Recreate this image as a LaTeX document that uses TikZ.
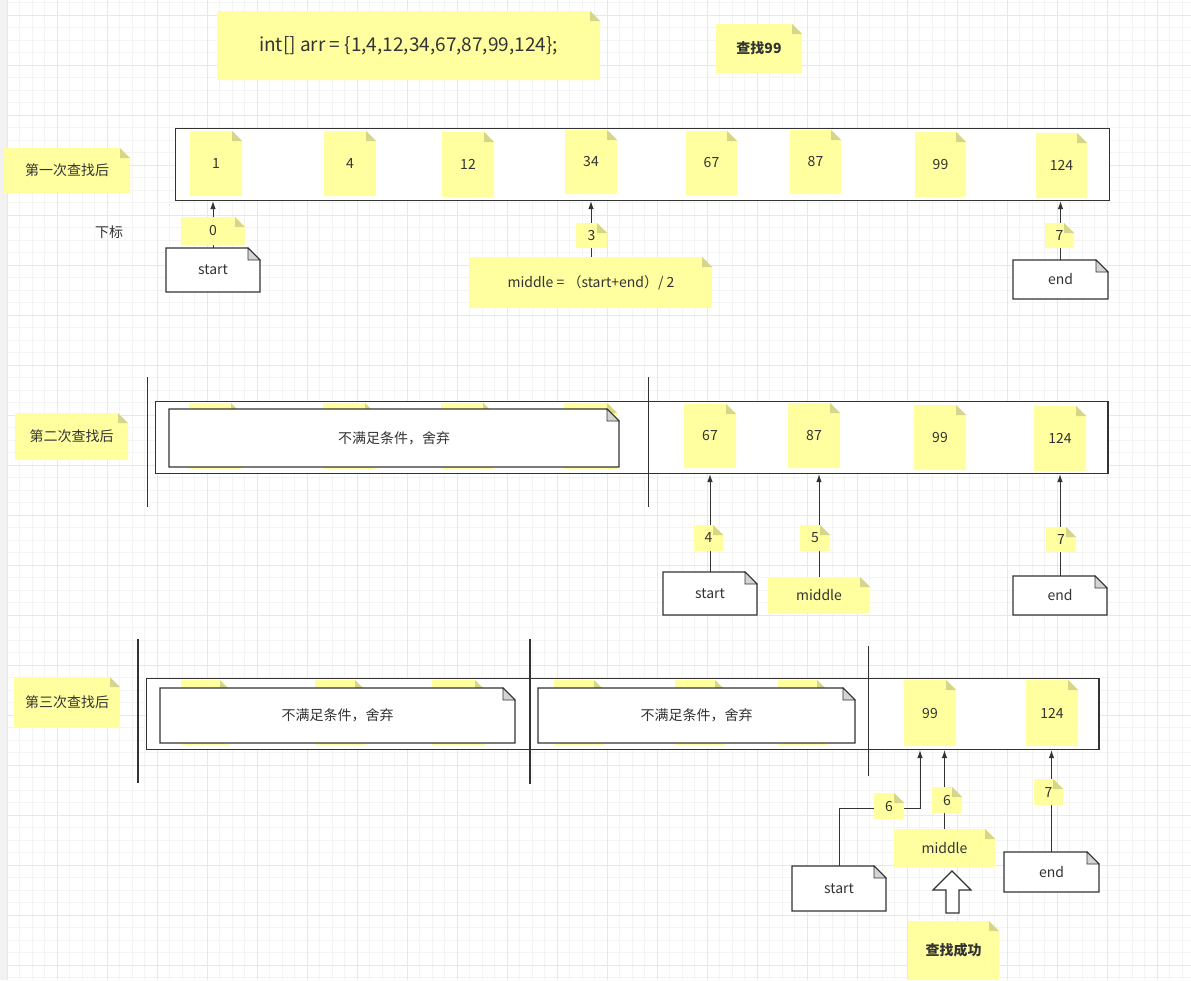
\documentclass[tikz,border=0pt]{standalone}
\usepackage{fontspec}
\setmainfont{Noto Sans CJK SC}
\usetikzlibrary{arrows.meta}

\definecolor{noteyellow}{RGB}{255,255,160}
\definecolor{foldyellow}{RGB}{214,214,138}
\definecolor{foldgray}{RGB}{212,212,212}
\definecolor{ink}{RGB}{51,51,51}
\definecolor{gridminor}{RGB}{244,244,244}
\definecolor{gridmajor}{RGB}{232,232,232}

\tikzset{
  lbl/.style={inner sep=0pt, text=ink, font=\fontsize{14}{16}\selectfont},
  arraybox/.style={draw=ink, line width=1.1pt, fill=white, inner sep=0pt},
  arr/.style={draw=ink, line width=1pt, -{Latex[length=8pt,width=5.5pt]}},
  sep/.style={draw=ink, line width=1.2pt},
}

% yellow note: name, x1, y1, x2, y2, text
\newcommand{\ynote}[6]{%
  \fill[noteyellow] (#2,#3) -- ({#4-10},#3) -- (#4,{#3+10}) -- (#4,#5) -- (#2,#5) -- cycle;
  \fill[foldyellow] ({#4-10},#3) -- ({#4-10},{#3+10}) -- (#4,{#3+10}) -- cycle;
  \node[lbl, minimum width={(#4-#2)*1pt}, minimum height={(#5-#3)*1pt}] (#1) at ({(#2+#4)/2},{(#3+#5)/2}) {#6};
}
% white note: name, x1, y1, x2, y2, text
\newcommand{\wnote}[6]{%
  \filldraw[fill=white, draw=ink, line width=1.2pt] (#2,#3) -- ({#4-12},#3) -- (#4,{#3+12}) -- (#4,#5) -- (#2,#5) -- cycle;
  \filldraw[fill=foldgray, draw=ink, line width=0.8pt] ({#4-12},#3) -- ({#4-12},{#3+12}) -- (#4,{#3+12}) -- cycle;
  \node[lbl, minimum width={(#4-#2)*1pt}, minimum height={(#5-#3)*1pt}] (#1) at ({(#2+#4)/2},{(#3+#5)/2}) {#6};
}

\begin{document}
\begin{tikzpicture}[x=1pt,y=-1pt]
    \useasboundingbox (0,0) rectangle (1191,980);
    % canvas and grid
    \fill[white] (0,0) rectangle (1191,980);
    \foreach \i in {0,...,94} {\draw[gridminor] ({7+12.5*\i},0) -- ({7+12.5*\i},980);}
    \foreach \j in {0,...,78} {\draw[gridminor] (7,{2.5+12.5*\j}) -- (1191,{2.5+12.5*\j});}
    \foreach \i in {0,...,23} {\draw[gridmajor] ({7+50*\i},0) -- ({7+50*\i},980);}
    \foreach \j in {0,...,19} {\draw[gridmajor] (7,{15+50*\j}) -- (1191,{15+50*\j});}
    \fill[black!5] (0,0) rectangle (7,980);

    % array and target
    \ynote{title}{217}{11}{600}{80}{\fontsize{19}{22}\selectfont int[] arr = \{1,4,12,34,67,87,99,124\};}
    \ynote{goal}{716}{24}{802}{73}{\textbf{查找99}}

    % first search
    \ynote{lab1}{4}{148}{130}{193}{第一次查找后}
    \node[arraybox, minimum width=934pt, minimum height=72pt] (a1) at (642.5,164.5) {};
    \ynote{e11}{190}{131}{242}{196}{1}
    \ynote{e12}{324}{131}{376}{196}{4}
    \ynote{e13}{442}{132}{494}{197}{12}
    \ynote{e14}{565}{130}{617}{194}{34}
    \ynote{e15}{686}{131}{737}{195}{67}
    \ynote{e16}{790}{130}{841}{194}{87}
    \ynote{e17}{915}{132}{966}{197}{99}
    \ynote{e18}{1036}{133}{1087}{198}{124}
    \node[lbl] (idx) at (109,232) {下标};
    \wnote{s1}{166}{248}{260}{292}{start}
    \ynote{m1}{470}{257}{712}{308}{middle = （start+end）/ 2}
    \wnote{n1}{1013}{260}{1108}{299}{end}
    \draw[arr] (s1.north) -- (s1.north |- a1.south);
    \draw[arr] (m1.north) -- (m1.north |- a1.south);
    \draw[arr] (n1.north) -- (n1.north |- a1.south);
    \ynote{i10}{181}{217}{245}{245}{0}
    \ynote{i13}{576}{223}{607}{248}{3}
    \ynote{i17}{1045}{223}{1074}{248}{7}

    % second search
    \ynote{lab2}{15}{413}{128}{460}{第二次查找后}
    \node[arraybox, minimum width=952.5pt, minimum height=72pt] (a2) at (631.75,437.5) {};
    \ynote{h21}{189}{403}{241}{469}{}
    \ynote{h22}{323}{403}{375}{469}{}
    \ynote{h23}{441}{403}{493}{469}{}
    \ynote{h24}{564}{403}{617}{469}{}
    \wnote{w2}{169}{409}{619}{467}{不满足条件，舍弃}
    \ynote{e25}{684}{404}{736}{468}{67}
    \ynote{e26}{788}{403}{840}{468}{87}
    \ynote{e27}{914}{405}{966}{470}{99}
    \ynote{e28}{1034}{406}{1086}{471}{124}
    \draw[sep] (147.5,377) -- (147.5,507);
    \draw[sep] (648.5,377) -- (648.5,507);
    \wnote{s2}{663}{572}{757}{615}{start}
    \ynote{m2}{768}{577}{870}{613}{middle}
    \wnote{n2}{1013}{576}{1107}{615}{end}
    \draw[arr] (s2.north) -- (s2.north |- a2.south);
    \draw[arr] (m2.north) -- (m2.north |- a2.south);
    \draw[arr] (n2.north) -- (n2.north |- a2.south);
    \ynote{i24}{694}{525}{723}{551}{4}
    \ynote{i25}{800}{525}{830}{551}{5}
    \ynote{i27}{1046}{527}{1076}{552}{7}

    % third search
    \ynote{lab3}{14}{677}{120}{728}{第三次查找后}
    \node[arraybox, minimum width=952.5pt, minimum height=71pt] (a3) at (622.75,714) {};
    \ynote{h31}{181}{680}{230}{745}{}
    \ynote{h32}{315}{680}{365}{745}{}
    \ynote{h33}{432}{680}{485}{745}{}
    \ynote{h34}{554}{680}{604}{745}{}
    \ynote{h35}{675}{680}{725}{745}{}
    \ynote{h36}{778}{680}{827}{745}{}
    \wnote{w31}{160}{688}{515}{743}{不满足条件，舍弃}
    \wnote{w32}{538}{688}{855}{743}{不满足条件，舍弃}
    \ynote{e37}{904}{680}{956}{746}{99}
    \ynote{e38}{1026}{680}{1078}{746}{124}
    \draw[sep] (138,639) -- (138,783);
    \draw[sep] (530,639) -- (530,784);
    \draw[sep] (868.5,646) -- (868.5,776);
    \wnote{s3}{792}{866}{886}{911}{start}
    \ynote{m3}{894}{829}{995}{867}{middle}
    \wnote{n3}{1004}{852}{1099}{892}{end}
    \coordinate (bend3) at (920,808);
    \draw[arr] (s3.north) |- (bend3) -- (bend3 |- a3.south);
    \draw[arr] (m3.north) -- (m3.north |- a3.south);
    \draw[arr] (n3.north) -- (n3.north |- a3.south);
    \ynote{i36}{874}{793}{904}{819}{6}
    \ynote{i36m}{932}{787}{962}{813}{6}
    \ynote{i37}{1034}{779}{1063}{805}{7}
    % found
    \filldraw[fill=white, draw=ink, line width=1.2pt] (946,913) -- (946,890) -- (933,890) -- (952,871) -- (971,890) -- (959,890) -- (959,913) -- cycle;
    \ynote{ok}{908}{921}{999}{980}{\textbf{查找成功}}
\end{tikzpicture}
\end{document}
